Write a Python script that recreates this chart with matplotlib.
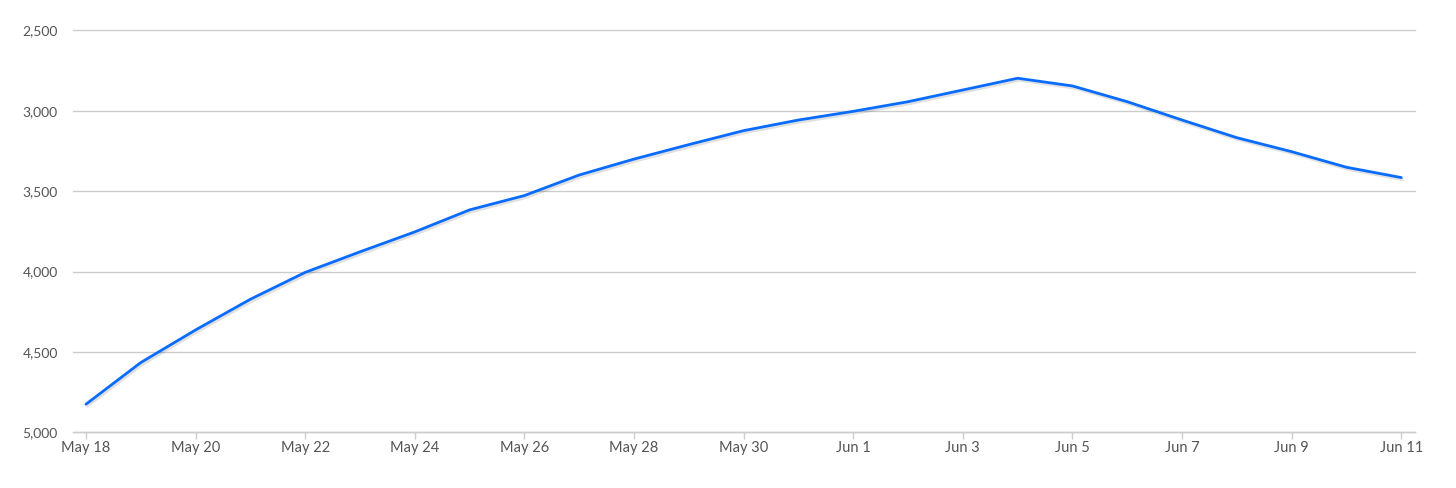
import matplotlib
matplotlib.use("Agg")
import matplotlib.pyplot as plt
import matplotlib.patheffects as pe
from datetime import datetime, timedelta

dates = ["2020-05-18", "2020-05-19", "2020-05-20", "2020-05-21", "2020-05-22",
         "2020-05-23", "2020-05-24", "2020-05-25", "2020-05-26", "2020-05-27",
         "2020-05-28", "2020-05-29", "2020-05-30", "2020-05-31", "2020-06-01",
         "2020-06-02", "2020-06-03", "2020-06-04", "2020-06-05", "2020-06-06",
         "2020-06-07", "2020-06-08", "2020-06-09", "2020-06-10", "2020-06-11"]
values = [4825, 4566, 4363, 4172, 4005,
          3877, 3753, 3616, 3527, 3399,
          3300, 3210, 3123, 3057, 3003,
          2943, 2870, 2797, 2845, 2943,
          3057, 3167, 3254, 3351, 3415]
y_ticks = [2500, 3000, 3500, 4000, 4500, 5000]

x = [datetime.strptime(d, "%Y-%m-%d") for d in dates]

fig = plt.figure(figsize=(14.56, 4.88), dpi=100)
ax = fig.add_axes([73/1456, 1-432.3/488, (1415-73)/1456, (432.3-30.5)/488])

ax.plot(x, values, color="#0a6cff", lw=2.0, solid_capstyle="round", zorder=3,
        path_effects=[pe.SimpleLineShadow(offset=(1, -1.5), shadow_color="black", alpha=0.12),
                      pe.Normal()])

ax.set_ylim(5000, 2500)
ax.set_yticks(y_ticks)
ax.set_yticklabels([f"{v:,}" for v in y_ticks])
ax.set_xlim(x[0] - timedelta(days=0.237), x[0] + timedelta(days=24.25))
tick_dates = x[::2]
ax.set_xticks(tick_dates)
ax.set_xticklabels([f"{d.strftime('%b')} {d.day}" for d in tick_dates])

ax.grid(axis="y", color="#cccccc", lw=1.0)
for gl in ax.get_ygridlines():
    gl.set_clip_on(False)
ax.set_axisbelow(True)
for s in ["top", "right", "left"]:
    ax.spines[s].set_visible(False)
ax.spines["bottom"].set_color("#cccccc")
ax.spines["bottom"].set_linewidth(1.0)

ax.tick_params(axis="y", length=0, pad=11, labelsize=10, labelcolor="#555555")
ax.tick_params(axis="x", length=5, width=1, color="#cccccc", pad=1,
               labelsize=10.5, labelcolor="#555555")
for lab in ax.get_xticklabels() + ax.get_yticklabels():
    lab.set_fontfamily("Lato")

fig.savefig("out.png", dpi=100, facecolor="white")
